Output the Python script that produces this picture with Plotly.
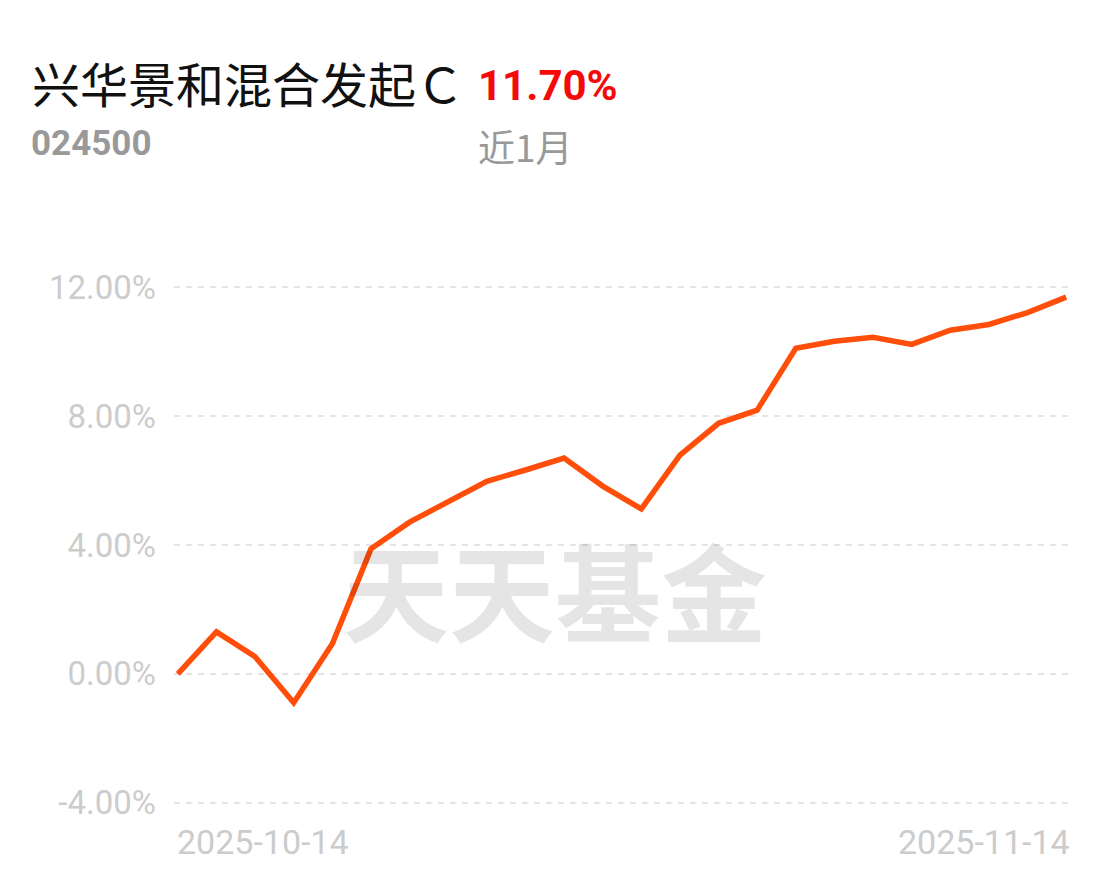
import plotly.graph_objects as go

# ---- data ----
dates = ["2025-10-14", "2025-10-15", "2025-10-16", "2025-10-17", "2025-10-20",
         "2025-10-21", "2025-10-22", "2025-10-23", "2025-10-24", "2025-10-27",
         "2025-10-28", "2025-10-29", "2025-10-30", "2025-10-31", "2025-11-03",
         "2025-11-04", "2025-11-05", "2025-11-06", "2025-11-07", "2025-11-10",
         "2025-11-11", "2025-11-12", "2025-11-13", "2025-11-14"]
returns = [0.00, 1.30, 0.53, -0.90, 0.93, 3.88, 4.71, 5.36, 5.98, 6.33,
           6.70, 5.83, 5.12, 6.79, 7.78, 8.19, 10.11, 10.33, 10.45, 10.23,
           10.67, 10.85, 11.22, 11.70]
y_ticks = [-4, 0, 4, 8, 12]
y_tick_labels = ["-4.00%", "0.00%", "4.00%", "8.00%", "12.00%"]
x_tick_labels = [dates[0], dates[-1]]

fund_name = "兴华景和混合发起Ｃ"
fund_code = "024500"
period_return = "11.70%"
period_label = "近1月"
watermark = "天天基金"

# ---- layout geometry (page pixel coords; page body has 8px margin) ----
W, H = 1110, 876
OFF = 8
plot_left, plot_right, plot_top, plot_bottom = 174, 1070, 281, 809
L = plot_left - OFF
R = W - (plot_right - OFF)
T = plot_top - OFF
B = H - (plot_bottom - OFF)
PW, PH = W - L - R, H - T - B


def px_x(px):
    return (px - OFF - L) / PW


def px_y(py):
    return (H - B - (py - OFF)) / PH


fig = go.Figure()
fig.add_trace(go.Scatter(
    x=dates, y=returns, mode="lines",
    line=dict(color="#ff4d0a", width=5.5),
    hoverinfo="skip", showlegend=False,
))

annotations = [
    dict(text=fund_name, x=px_x(30), y=px_y(82), xref="paper", yref="paper",
         xanchor="left", yanchor="middle", showarrow=False,
         font=dict(family="Noto Sans CJK SC", size=48, color="#111111")),
    dict(text="<b>" + period_return + "</b>", x=px_x(476), y=px_y(85), xref="paper", yref="paper",
         xanchor="left", yanchor="middle", showarrow=False,
         font=dict(family="Roboto", size=42, color="#f50a0a")),
    dict(text="<b>" + fund_code + "</b>", x=px_x(29), y=px_y(144), xref="paper", yref="paper",
         xanchor="left", yanchor="middle", showarrow=False,
         font=dict(family="Roboto", size=35, color="#999999")),
    dict(text=period_label, x=px_x(476), y=px_y(146), xref="paper", yref="paper",
         xanchor="left", yanchor="middle", showarrow=False,
         font=dict(family="Noto Sans CJK SC", size=37, color="#999999")),
    dict(text="<b>" + watermark + "</b>", x=px_x(555), y=px_y(588), xref="paper", yref="paper",
         xanchor="center", yanchor="middle", showarrow=False,
         font=dict(family="Noto Sans CJK SC", size=106, color="rgba(0,0,0,0.10)")),
    dict(text=x_tick_labels[0], x=x_tick_labels[0], y=px_y(842), xref="x", yref="paper",
         xanchor="left", yanchor="middle", showarrow=False, xshift=-3,
         font=dict(family="Roboto", size=34, color="#cccccc")),
    dict(text=x_tick_labels[1], x=x_tick_labels[1], y=px_y(842), xref="x", yref="paper",
         xanchor="right", yanchor="middle", showarrow=False, xshift=6,
         font=dict(family="Roboto", size=34, color="#cccccc")),
]

fig.update_layout(
    width=W, height=H,
    margin=dict(l=L, r=R, t=T, b=B, pad=0),
    paper_bgcolor="white", plot_bgcolor="white",
    annotations=annotations,
    xaxis=dict(type="category", range=[-0.1, len(dates) - 0.9],
               showgrid=False, showticklabels=False, zeroline=False,
               showline=False, ticks=""),
    yaxis=dict(range=[-4.2, 12.2], tickvals=y_ticks, ticktext=y_tick_labels,
               showgrid=True, gridcolor="#e4e4e4", gridwidth=2, griddash="6px,6px",
               zeroline=False, showline=False, ticks="",
               ticklabelstandoff=17,
               tickfont=dict(family="Roboto", size=33, color="#cccccc")),
)

fig.write_html("out.html")
